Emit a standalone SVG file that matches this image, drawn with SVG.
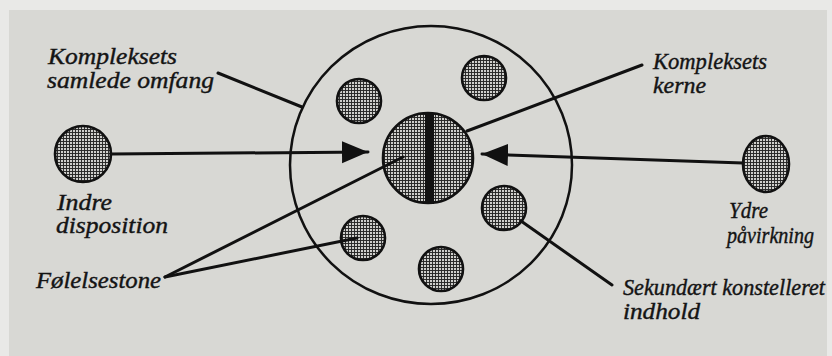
<svg xmlns="http://www.w3.org/2000/svg" width="832" height="356" viewBox="0 0 832 356">
  <defs>
    <pattern id="screen" width="3" height="3" patternUnits="userSpaceOnUse">
      <rect width="3" height="3" fill="#cfcfcc"/>
      <path d="M0,0.5 H3 M0.5,0 V3" stroke="#262626" stroke-width="0.95"/>
    </pattern>
    <marker id="arrow" markerUnits="userSpaceOnUse" markerWidth="27" markerHeight="24" refX="26" refY="12" orient="auto">
      <path d="M0,1 L26,12 L0,23 Z" fill="#111"/>
    </marker>
    <style>
      .dot { fill: url(#screen); stroke: #111; stroke-width: 2.6; }
      .ring { fill: none; stroke: #111; stroke-width: 2.5; }
      .conn { fill: none; stroke: #111; stroke-width: 3; stroke-linecap: round; }
      .lbl { font-family: "Liberation Serif", "Times New Roman", serif; font-style: italic; font-size: 23px; fill: #141414; stroke: #141414; stroke-width: 0.4; }
    </style>
  </defs>

  <rect x="0" y="0" width="832" height="356" fill="#e9e9e7"/>
  <rect x="9" y="10" width="818" height="346" fill="#d8d8d4"/>

  <g id="complex-scope">
    <ellipse class="ring" cx="431" cy="165" rx="141" ry="139"/>
  </g>
  <g id="complex-core">
    <circle class="dot" cx="428" cy="158" r="45"/>
    <rect x="425" y="113" width="9" height="91" fill="#111"/>
  </g>
  <g id="content-1"><circle class="dot" cx="359" cy="101" r="22"/></g>
  <g id="content-2"><circle class="dot" cx="484" cy="78" r="22"/></g>
  <g id="content-3"><circle class="dot" cx="504" cy="208" r="22"/></g>
  <g id="content-4"><circle class="dot" cx="363" cy="238" r="22"/></g>
  <g id="content-5"><circle class="dot" cx="441" cy="269" r="22"/></g>
  <g id="inner-disposition"><circle class="dot" cx="83" cy="154" r="28"/></g>
  <g id="outer-influence"><ellipse class="dot" cx="766" cy="164" rx="23" ry="28"/></g>

  <g id="connectors">
    <line class="conn" x1="111" y1="154" x2="368" y2="152" marker-end="url(#arrow)"/>
    <line class="conn" x1="743" y1="163" x2="482" y2="154" marker-end="url(#arrow)"/>
    <line class="conn" x1="218" y1="73" x2="302" y2="107"/>
    <line class="conn" x1="642" y1="65" x2="467" y2="131"/>
    <line class="conn" x1="165" y1="277" x2="403" y2="157"/>
    <line class="conn" x1="165" y1="277" x2="357" y2="238"/>
    <line class="conn" x1="521" y1="221" x2="612" y2="285"/>
  </g>

  <g id="labels">
    <text class="lbl" x="48" y="64" textLength="129" lengthAdjust="spacingAndGlyphs">Kompleksets</text>
    <text class="lbl" x="47" y="88" textLength="167" lengthAdjust="spacingAndGlyphs">samlede omfang</text>
    <text class="lbl" x="653" y="69" textLength="114" lengthAdjust="spacingAndGlyphs">Kompleksets</text>
    <text class="lbl" x="653" y="93" textLength="53" lengthAdjust="spacingAndGlyphs">kerne</text>
    <text class="lbl" x="57" y="210" textLength="55" lengthAdjust="spacingAndGlyphs">Indre</text>
    <text class="lbl" x="56" y="233" textLength="112" lengthAdjust="spacingAndGlyphs">disposition</text>
    <text class="lbl" x="36" y="288" textLength="125" lengthAdjust="spacingAndGlyphs">Følelsestone</text>
    <text class="lbl" x="729" y="218" textLength="39" lengthAdjust="spacingAndGlyphs">Ydre</text>
    <text class="lbl" x="727" y="243" textLength="87" lengthAdjust="spacingAndGlyphs">påvirkning</text>
    <text class="lbl" x="623" y="295" textLength="202" lengthAdjust="spacingAndGlyphs">Sekundært konstelleret</text>
    <text class="lbl" x="623" y="319" textLength="77" lengthAdjust="spacingAndGlyphs">indhold</text>
  </g>
</svg>
